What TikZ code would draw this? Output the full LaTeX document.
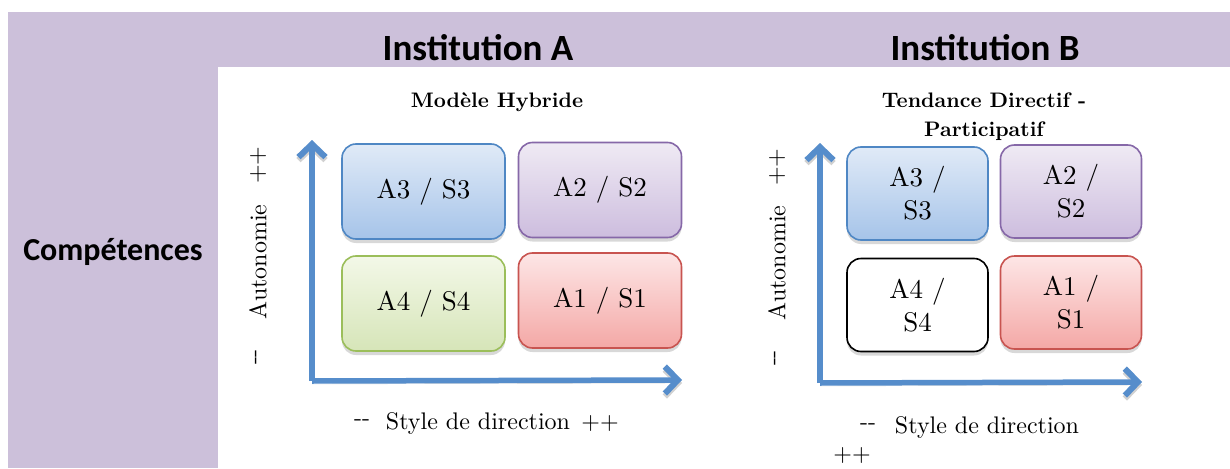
\documentclass[tikz,border=0pt]{standalone}
\usepackage{fontspec}
\setmainfont{lmroman10-regular.otf}[BoldFont=lmroman10-bold.otf]
\newfontfamily\headfont{Carlito}
\usetikzlibrary{arrows.meta,shadows}
\definecolor{bandpurple}{RGB}{204,192,218}
\definecolor{axisblue}{RGB}{86,141,203}
\definecolor{bluetop}{RGB}{224,234,247}
\definecolor{bluebot}{RGB}{166,196,233}
\definecolor{blueline}{RGB}{79,135,196}
\definecolor{purptop}{RGB}{239,234,244}
\definecolor{purpbot}{RGB}{205,189,222}
\definecolor{purpline}{RGB}{134,104,168}
\definecolor{greentop}{RGB}{243,248,232}
\definecolor{greenbot}{RGB}{214,229,184}
\definecolor{greenline}{RGB}{155,190,90}
\definecolor{redtop}{RGB}{253,230,230}
\definecolor{redbot}{RGB}{244,168,166}
\definecolor{redline}{RGB}{200,84,80}
\begin{document}
\begin{tikzpicture}[x=1pt,y=-1pt,
  head/.style={font=\headfont\bfseries\fontsize{37}{40}\selectfont},
  title/.style={font=\bfseries\fontsize{21}{29}\selectfont,align=center},
  lab/.style={font=\fontsize{24}{26}\selectfont},
  vlab/.style={lab,rotate=90},
  box/.style={draw,line width=1.6pt,rounded corners=14pt,align=center,
    font=\fontsize{27}{33}\selectfont,
    drop shadow={shadow xshift=0pt,shadow yshift=-4pt,opacity=.3}},
  boxA/.style={box,minimum width=163,minimum height=95},
  boxB/.style={box,minimum width=141,minimum height=93},
  bluebox/.style={draw=blueline,top color=bluetop,bottom color=bluebot},
  purpbox/.style={draw=purpline,top color=purptop,bottom color=purpbot},
  greenbox/.style={draw=greenline,top color=greentop,bottom color=greenbot},
  redbox/.style={draw=redline,top color=redtop,bottom color=redbot},
  axis/.style={draw=axisblue,line width=5.5pt,
    -{Straight Barb[length=13pt,width=27pt,line width=6pt]},
    preaction={draw=black,opacity=.18,transform canvas={yshift=-3pt}}}]
\useasboundingbox (0,0) rectangle (1230,468);
\fill[bandpurple] (8,12) rectangle (1230,468);
\fill[white] (218,67) rectangle (1230,468);
\node[head] (instA) at (478,48) {Institution A};
\node[head] (instB) at (985,48) {Institution B};
\node[head,font=\headfont\bfseries\fontsize{32}{34}\selectfont] (comp) at (113,252) {Compétences};

\node[title] (titleA) at (497,102) {Modèle Hybride};
\coordinate (oA) at (312,381);
\coordinate (yA) at (312,140);
\coordinate (xA) at (682,380);
\draw[axis] (oA) -- (yA);
\draw[axis] (oA) -- (xA);
\node[boxA,bluebox] (a3) at (423.5,191.5) {A3 / S3};
\node[boxA,purpbox] (a2) at (600,190) {A2 / S2};
\node[boxA,greenbox] (a4) at (423.5,303.5) {A4 / S4};
\node[boxA,redbox] (a1) at (600,300.5) {A1 / S1};
\node[vlab] (plusyA) at (258,165) {++};
\node[vlab] (autoA) at (258,262) {Autonomie};
\node[vlab] (minyA) at (258,357) {-{}-};
\node[lab] (minxA) at (362,423) {-{}-};
\node[lab] (styleA) at (478,423) {Style de direction};
\node[lab] (plusxA) at (600,423) {++};

\node[title] (titleB) at (984,117) {Tendance Directif -\\Participatif};
\coordinate (oB) at (820,383);
\coordinate (yB) at (820,143);
\coordinate (xB) at (1142,382);
\draw[axis] (oB) -- (yB);
\draw[axis] (oB) -- (xB);
\node[boxB,bluebox] (b3) at (917.5,193.5) {A3 /\\S3};
\node[boxB,purpbox] (b2) at (1071,191.5) {A2 /\\S2};
\node[boxB,fill=white] (b4) at (917.5,305) {A4 /\\S4};
\node[boxB,redbox] (b1) at (1071,302.5) {A1 /\\S1};
\node[vlab] (plusyB) at (777,167) {++};
\node[vlab] (autoB) at (777,263) {Autonomie};
\node[vlab] (minyB) at (777,358) {-{}-};
\node[lab] (minxB) at (868,427) {-{}-};
\node[lab] (styleB) at (987,427) {Style de direction};
\node[lab] (plusxB) at (852,455) {++};
\end{tikzpicture}
\end{document}
